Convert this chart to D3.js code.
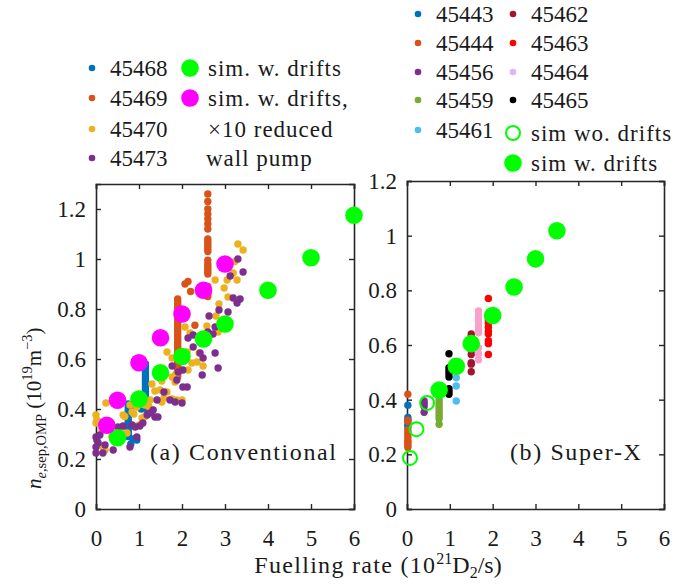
<!DOCTYPE html>
<html><head><meta charset="utf-8">
<script src="https://cdn.jsdelivr.net/npm/d3@7"></script>
<style>
body{margin:0;background:#fff;}
svg{display:block;font-family:"Liberation Serif","Times New Roman",serif;}
</style></head>
<body><svg id="c" width="697" height="585"></svg>
<script>
// ---------- DATA ----------
const xTicks = [0,1,2,3,4,5,6];
const yTicks = [0,0.2,0.4,0.6,0.8,1,1.2];

// (a) Conventional – experiments
const s45468 = [[0.75,0.42],[0.75,0.41],[0.75,0.40],[0.75,0.39],[0.75,0.38],[0.75,0.37],[0.75,0.36],[0.75,0.35],[0.75,0.34],[0.75,0.33],[0.75,0.32],[0.75,0.31],[0.75,0.30],[0.75,0.29],[0.81,0.26],[0.86,0.28],[0.95,0.276],[0.85,0.41],[0.95,0.41],[1.05,0.40],
 [1.15,0.58],[1.15,0.57],[1.15,0.56],[1.15,0.55],[1.15,0.54],[1.15,0.53],[1.15,0.52],[1.15,0.51],[1.15,0.50],[1.15,0.49],[1.15,0.48],[1.15,0.47],[1.15,0.46],[1.15,0.45],[1.15,0.44],[1.15,0.43],[1.15,0.42],[1.15,0.41],[1.15,0.40]];
const s45469 = [[2.6,1.26],[2.6,1.23],[2.6,1.20],[2.6,1.18],[2.6,1.16],[2.6,1.14],[2.6,1.12],[2.6,1.08],[2.6,1.07],[2.6,1.06],[2.6,1.05],[2.6,1.04],[2.6,1.03],[2.6,0.995],[2.6,0.98],[2.6,0.97],[2.6,0.96],[2.6,0.95],[2.6,0.94],[2.6,0.89],[2.6,0.88],[2.6,0.87],[2.6,0.86],[2.6,0.85],
 [1.9,0.84],[1.9,0.83],[1.9,0.82],[1.9,0.81],[1.9,0.80],[1.9,0.79],[1.9,0.78],[1.9,0.77],[1.9,0.76],[1.9,0.75],[1.9,0.74],[1.9,0.73],[1.9,0.72],[1.9,0.71],[1.9,0.70],[1.9,0.69],[1.9,0.68],[1.9,0.67],[1.9,0.66],[1.9,0.65],[1.9,0.64],[1.9,0.63],[1.9,0.62],[1.9,0.61],[1.9,0.60],[1.9,0.59],[1.9,0.58],[1.9,0.57],[1.9,0.56],[1.9,0.55],[1.9,0.54],[1.9,0.53],
 [2.07,0.90],[2.14,0.91],[2.2,0.87],[2.3,0.735]];
const s45470 = [[0,0.376],[0,0.344],[0.02,0.356],[0.14,0.316],[0.16,0.248],[0.21,0.236],[0.23,0.424],[0.3,0.348],[0.37,0.29],[0.44,0.276],[0.56,0.316],[0.6,0.30],[0.63,0.376],[0.67,0.37],[0.72,0.304],[0.79,0.416],[0.84,0.388],[0.88,0.38],[0.95,0.408],[1.0,0.336],[1.07,0.364],[1.07,0.42],[1.14,0.416],[1.14,0.37],[1.23,0.41],[1.26,0.436],[1.3,0.50],[1.37,0.472],[1.49,0.476],[1.53,0.512],[1.53,0.428],[1.58,0.444],[1.65,0.468],[1.65,0.628],[1.77,0.604],[1.77,0.44],[1.77,0.528],[1.84,0.508],[1.86,0.54],[1.88,0.436],[2.0,0.436],[2.07,0.728],[2.12,0.628],[2.14,0.556],[2.19,0.704],[2.23,0.584],[2.35,0.588],[2.4,0.624],[2.42,0.668],[2.49,0.572],[2.58,0.732],[2.77,0.916],[2.79,0.772],[2.84,0.708],[2.86,0.82],[2.98,0.884],[3.05,0.916],[3.07,0.848],[3.19,0.944],[3.23,0.99],[3.28,0.916],[3.3,1.06],[3.42,1.036]];
const s45473 = [[0,0.288],[0.02,0.276],[0,0.248],[0,0.224],[0.05,0.264],[0.09,0.296],[0.16,0.224],[0.21,0.256],[0.4,0.236],[0.51,0.328],[0.63,0.332],[0.79,0.248],[0.84,0.336],[0.91,0.328],[0.95,0.288],[1.02,0.332],[1.09,0.344],[1.19,0.376],[1.26,0.384],[1.33,0.396],[1.37,0.368],[1.44,0.368],[1.42,0.436],[1.53,0.544],[1.58,0.468],[1.6,0.54],[1.72,0.436],[1.77,0.572],[1.84,0.428],[1.88,0.516],[1.91,0.548],[2.0,0.424],[2.02,0.556],[2.02,0.488],[2.12,0.488],[2.14,0.684],[2.26,0.648],[2.26,0.696],[2.42,0.624],[2.47,0.536],[2.49,0.604],[2.6,0.708],[2.63,0.772],[2.72,0.70],[2.77,0.624],[2.77,0.728],[2.84,0.564],[2.86,0.796],[3.07,0.788],[3.12,0.932],[3.19,0.844],[3.28,0.824],[3.35,0.84],[3.3,1.0],[3.42,0.948]];
// (a) simulations
const simAX = [0.5,1,1.5,2,2.5,3,4,5,6];
const simAY = [0.285,0.44,0.545,0.61,0.68,0.74,0.875,1.005,1.175];
const simRedX = [0.25,0.5,1,1.5,2,2.5,3];
const simRedY = [0.335,0.435,0.585,0.685,0.78,0.875,0.98];

// (b) Super-X – experiments
const s45443 = [[0.02,0.38],[0.02,0.335],[0.02,0.325],[0.02,0.31],[0.02,0.30]];
const s45444 = [[0.02,0.42],[0.02,0.325],[0.02,0.32],[0.02,0.29],[0.02,0.28],[0.02,0.27],[0.02,0.26],[0.02,0.25],[0.02,0.245],[0.02,0.24],[0.02,0.23],[0.02,0.225]];
const s45456 = [[0.4,0.395],[0.4,0.385],[0.4,0.375],[0.4,0.354]];
const s45459 = [[0.75,0.40],[0.75,0.39],[0.75,0.38],[0.75,0.37],[0.75,0.36],[0.75,0.35],[0.75,0.34],[0.75,0.33],[0.75,0.31]];
const s45461 = [[1.15,0.48],[1.15,0.45],[1.15,0.395]];
const s45462 = [[1.5,0.64],[1.5,0.63],[1.5,0.62],[1.5,0.60],[1.5,0.58],[1.5,0.565],[1.5,0.535],[1.5,0.53],[1.5,0.502]];
const s45463 = [[1.9,0.77],[1.9,0.71],[1.9,0.70],[1.9,0.69],[1.9,0.68],[1.9,0.665],[1.9,0.65],[1.9,0.64],[1.9,0.616],[1.9,0.605],[1.9,0.565]];
const s45464 = [[1.67,0.725],[1.67,0.715],[1.67,0.705],[1.67,0.695],[1.67,0.685],[1.67,0.675],[1.67,0.665],[1.67,0.655],[1.67,0.645],[1.67,0.59],[1.67,0.568],[1.67,0.546]];
const s45465 = [[0.98,0.568],[0.98,0.517],[0.98,0.505],[0.98,0.495],[0.98,0.483],[0.98,0.44],[0.98,0.43],[0.98,0.42]];
// (b) simulations
const simBX = [0.75,1.15,1.5,2,2.5,3,3.5];
const simBY = [0.435,0.522,0.605,0.708,0.812,0.915,1.018];
const simNoX = [0.07,0.22,0.47];
const simNoY = [0.187,0.292,0.388];

// ---------- DRAW ----------
const svg = d3.select("#c");
const C = {
  45468:"#0072BD",45469:"#D95319",45470:"#EDB120",45473:"#7E2F8E",
  45443:"#0072BD",45444:"#D95319",45456:"#7E2F8E",45459:"#77AC30",45461:"#4DBEEE",
  45462:"#A2142F",45463:"#FF0000",45464:"#F7A1CC",45465:"#000000"
};
const GREEN="#00FF00", MAG="#FF00FF", AX="#262626", TXT="#1a1a1a";

function panel(x0,x1,yb,yt,ymax){
  const x=d3.scaleLinear().domain([0,6]).range([x0,x1]);
  const y=d3.scaleLinear().domain([0,ymax]).range([yb,yt]);
  return {x,y};
}
const A = panel(96,354,509,184,1.3);
const B = panel(407,664,509,181,1.2);

function frame(P){
  const g = svg.append("g");
  const [x0,x1]=P.x.range(), [yb,yt]=P.y.range();
  g.append("g").attr("transform",`translate(0,${yb})`).call(d3.axisBottom(P.x).tickValues(xTicks).tickSize(-5).tickFormat(d3.format("d")).tickPadding(21));
  g.append("g").attr("transform",`translate(0,${yt})`).call(d3.axisTop(P.x).tickValues(xTicks).tickSize(-5).tickFormat(""));
  g.append("g").attr("transform",`translate(${x0},0)`).call(d3.axisLeft(P.y).tickValues(yTicks).tickSize(-5).tickFormat(d=>d===0?"0":d===1?"1":d3.format(".1f")(d)).tickPadding(10));
  g.append("g").attr("transform",`translate(${x1},0)`).call(d3.axisRight(P.y).tickValues(yTicks).tickSize(-5).tickFormat(""));
  g.selectAll(".domain").attr("stroke",AX).attr("stroke-width",1.6);
  g.selectAll(".tick line").attr("stroke",AX).attr("stroke-width",1.4);
  g.selectAll(".tick text").attr("fill",TXT).style("font-size","23px").style("font-family","'Liberation Serif',serif");
  return g;
}
frame(A); frame(B);

function dots(P, data, col, r){
  svg.append("g").selectAll("circle").data(data).enter().append("circle")
    .attr("cx",d=>P.x(d[0])).attr("cy",d=>P.y(d[1])).attr("r",r||3.7).attr("fill",col);
}
function sim(P, xs, ys, col, open){
  svg.append("g").selectAll("circle").data(xs.map((v,i)=>[v,ys[i]])).enter().append("circle")
    .attr("cx",d=>P.x(d[0])).attr("cy",d=>P.y(d[1])).attr("r",open?7:8.8)
    .attr("fill",open?"none":col).attr("stroke",open?col:"none").attr("stroke-width",2);
}
// panel a
dots(A,s45468,C[45468]); dots(A,s45469,C[45469]); dots(A,s45470,C[45470]); dots(A,s45473,C[45473]);
sim(A,simAX,simAY,GREEN); sim(A,simRedX,simRedY,MAG);
// panel b
dots(B,s45443,C[45443]); dots(B,s45444,C[45444]); dots(B,s45456,C[45456]); dots(B,s45459,C[45459]);
dots(B,s45461,C[45461]); dots(B,s45462,C[45462]); dots(B,s45463,C[45463]); dots(B,s45464,C[45464]); dots(B,s45465,C[45465]);
sim(B,simNoX,simNoY,GREEN,true); sim(B,simBX,simBY,GREEN);

// annotations
const word = (x,y,t,anchor)=>svg.append("text").attr("x",x).attr("y",y).attr("text-anchor",anchor||"start")
  .style("font-size","23px").style("letter-spacing","1px").attr("fill",TXT).text(t);
word(150,460,"(a) Conventional").style("font-size","24px").style("letter-spacing","1.6px");
word(510,460,"(b) Super-X").style("font-size","24px").style("letter-spacing","1.6px");

// legend left
const legA=[["45468",68],["45469",98],["45470",129],["45473",158]];
legA.forEach(([k,yy])=>{
  svg.append("circle").attr("cx",92).attr("cy",yy).attr("r",3.3).attr("fill",C[k]);
  svg.append("text").attr("x",110).attr("y",yy+8).style("font-size","23px").attr("fill",TXT).text(k);
});
svg.append("circle").attr("cx",190).attr("cy",68).attr("r",8.8).attr("fill",GREEN);
svg.append("circle").attr("cx",190).attr("cy",98).attr("r",8.8).attr("fill",MAG);
word(208,76,"sim. w. drifts");
word(208,106,"sim. w. drifts,");
word(208,137,"×10 reduced");
word(206,166,"wall pump");

// legend right
const legB1=[["45443",14],["45444",43],["45456",72],["45459",100],["45461",130]];
const legB2=[["45462",14],["45463",43],["45464",72],["45465",100]];
legB1.forEach(([k,yy])=>{
  svg.append("circle").attr("cx",418).attr("cy",yy).attr("r",3.3).attr("fill",C[k]);
  svg.append("text").attr("x",436).attr("y",yy+8).style("font-size","23px").attr("fill",TXT).text(k);
});
legB2.forEach(([k,yy])=>{
  svg.append("circle").attr("cx",513).attr("cy",yy).attr("r",3.3).attr("fill",k==="45464"?"#D9B8F5":C[k]);
  svg.append("text").attr("x",531).attr("y",yy+8).style("font-size","23px").attr("fill",TXT).text(k);
});
svg.append("circle").attr("cx",513).attr("cy",133).attr("r",7).attr("fill","none").attr("stroke",GREEN).attr("stroke-width",2);
svg.append("circle").attr("cx",513).attr("cy",163).attr("r",8.8).attr("fill",GREEN);
word(531,141,"sim wo. drifts");
word(531,171,"sim w. drifts");

// x label
const xl = svg.append("text").attr("x",378).attr("y",573).attr("text-anchor","middle").style("font-size","24px").attr("fill",TXT);
xl.append("tspan").text("Fuelling rate (10").style("letter-spacing","1.3px");
xl.append("tspan").attr("dy",-9).style("font-size","16px").text("21");
xl.append("tspan").attr("dy",9).text("D");
xl.append("tspan").attr("dy",5).style("font-size","16px").text("2");
xl.append("tspan").attr("dy",-5).text("/s)");

// y label (starts at bottom, reads upward)
const yl = svg.append("text").attr("transform","translate(41,489) rotate(-90)").attr("text-anchor","start").style("font-size","21px").attr("fill",TXT);
yl.append("tspan").style("font-style","italic").text("n");
yl.append("tspan").attr("dy",5).style("font-size","14.5px").style("font-style","italic").text("e");
yl.append("tspan").style("font-size","14.5px").text(",sep,OMP");
yl.append("tspan").attr("dy",-5).text(" (10");
yl.append("tspan").attr("dy",-9).style("font-size","14.5px").text("19");
yl.append("tspan").attr("dy",9).text("m");
yl.append("tspan").attr("dy",-9).style("font-size","14.5px").text("−3");
yl.append("tspan").attr("dy",9).text(")");
</script></body></html>
